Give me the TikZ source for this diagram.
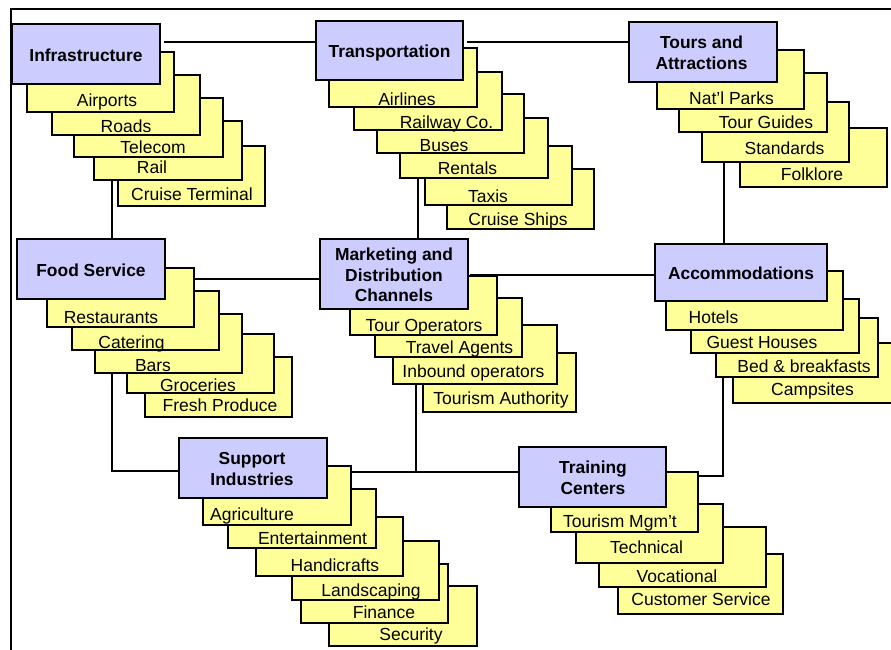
\documentclass[tikz,border=0pt]{standalone}
\usepackage{fontspec}
\setmainfont{Liberation Sans}
\usetikzlibrary{fit}
\definecolor{headfill}{HTML}{CCCCFF}
\definecolor{itemfill}{HTML}{FFFF99}
\tikzset{
  headbox/.style={draw=black, fill=headfill, line width=1.5pt, inner sep=0pt},
  itembox/.style={draw=black, fill=itemfill, line width=1.5pt, inner sep=0pt},
  lbl/.style={inner sep=0pt, text height=12.5pt, text depth=0pt,
    font=\fontsize{17.5}{20}\selectfont},
  hlbl/.style={inner sep=0pt, text depth=0pt, align=center,
    font=\fontsize{17.4}{20.5}\selectfont\bfseries},
  link/.style={draw=black, line width=1.4pt},
  frame/.style={draw=black, line width=1.6pt}
}
% one yellow card: name, corners (x1,y1) (x2,y2), label position, label
\newcommand\yitem[8]{%
  \node[itembox, fit={(#2,#3) (#4,#5)}] (#1) {};
  \node[lbl] (#1-t) at (#6,#7) {#8};}
% one blue heading card: name, corners, label position, label
\newcommand\hitem[8]{%
  \node[headbox, fit={(#2,#3) (#4,#5)}] (#1) {};
  \node[hlbl] (#1-t) at (#6,#7) {#8};}
\begin{document}
\begin{tikzpicture}[x=1pt,y=-1pt]
\useasboundingbox (0,0) rectangle (891,649);
\clip (0,0) rectangle (891,649);

% outer frame
\draw[frame] (11,9) rectangle (905,665);

% connector end points
\coordinate (h1) at (164,42);
\coordinate (h2) at (467,42);
\coordinate (v1) at (112,180);
\coordinate (v2) at (418,178);
\coordinate (v3) at (724,162);
\coordinate (h3) at (194,279);
\coordinate (h4) at (470,275);
\coordinate (v4) at (112,373);
\coordinate (k4) at (112,471);
\coordinate (v5) at (416,384);
\coordinate (h5) at (351,472);
\coordinate (v6) at (723,377);
\coordinate (k6) at (723,476);
\coordinate (e6) at (698,476);

% connectors sit on a layer behind the cards
\pgfdeclarelayer{back}
\pgfsetlayers{back,main}

% ---------------- Infrastructure
\yitem{i5}{118}{146}{265}{206}{192}{194}{Cruise Terminal}
\yitem{i4}{94}{121}{242}{180}{152}{167}{Rail}
\yitem{i3}{74}{98}{223}{157}{153}{147}{Telecom}
\yitem{i2}{52}{75}{200}{135}{126}{126}{Roads}
\yitem{i1}{27}{52}{174}{112}{107}{100}{Airports}
\hitem{inf}{12}{24}{160}{84}{86}{55}{Infrastructure}

% ---------------- Transportation
\yitem{t6}{447}{169}{594}{229}{518}{219}{Cruise Ships}
\yitem{t5}{425}{146}{572}{205}{488}{196}{Taxis}
\yitem{t4}{400}{118}{548}{178}{467.5}{168.5}{Rentals}
\yitem{t3}{377}{94}{524}{153}{444}{145.5}{Buses}
\yitem{t2}{354}{72}{502}{130}{446.5}{122.5}{Railway Co.}
\yitem{t1}{329}{48}{477}{107}{407}{99}{Airlines}
\hitem{trans}{316}{21}{463}{80}{389.5}{51}{Transportation}

% ---------------- Tours and Attractions
\yitem{a4}{740}{128}{887}{187}{812}{174}{Folklore}
\yitem{a3}{702}{102}{849}{162}{784.5}{148.5}{Standards}
\yitem{a2}{679}{73}{827}{132}{766}{122.5}{Tour Guides}
\yitem{a1}{657}{50}{804}{109}{731.5}{98.5}{Nat’l Parks}
\hitem{tours}{629}{22}{777}{82}{701.5}{52.5}{Tours and\\Attractions}

% ---------------- Food Service
\yitem{f5}{145}{357}{292}{417}{220}{405}{Fresh Produce}
\yitem{f4}{127}{334}{274}{393}{198}{385}{Groceries}
\yitem{f3}{95}{314}{242}{373}{153}{365}{Bars}
\yitem{f2}{72}{291}{219}{350}{131.5}{342.5}{Catering}
\yitem{f1}{47}{268}{194}{327}{111}{317.5}{Restaurants}
\hitem{food}{17}{239}{165}{299}{91}{270}{Food Service}

% ---------------- Marketing and Distribution Channels
\yitem{m4}{423}{353}{576}{412}{501}{398.5}{Tourism Authority}
\yitem{m3}{393}{325}{557}{384}{473.5}{371.5}{Inbound operators}
\yitem{m2}{375}{298}{522}{357}{459.5}{347.5}{Travel Agents}
\yitem{m1}{350}{276}{497}{335}{424}{325}{Tour Operators}
\hitem{mkt}{320}{239}{468}{309}{394}{275}{Marketing and\\Distribution\\Channels}

% ---------------- Accommodations
\yitem{c4}{733}{343}{905}{403}{812.5}{389}{Campsites}
\yitem{c3}{716}{318}{878}{377}{804}{366}{Bed \& breakfasts}
\yitem{c2}{691}{299}{859}{353}{762}{342}{Guest Houses}
\yitem{c1}{666}{271}{843}{330}{713.5}{317}{Hotels}
\hitem{acc}{655}{244}{827}{301}{741}{273}{Accommodations}

% ---------------- Support Industries
\yitem{s6}{329}{586}{477}{646}{411}{634}{Security}
\yitem{s5}{301}{564}{448}{623}{384}{612.5}{Finance}
\yitem{s4}{292}{541}{439}{600}{371}{590}{Landscaping}
\yitem{s3}{256}{517}{403}{576}{335}{565}{Handicrafts}
\yitem{s2}{228}{489}{376}{548}{312.5}{538.5}{Entertainment}
\yitem{s1}{203}{466}{351}{525}{252}{514}{Agriculture}
\hitem{sup}{179}{438}{327}{498}{252}{469}{Support\\Industries}

% ---------------- Training Centers
\yitem{r4}{618}{554}{783}{614}{701}{599}{Customer Service}
\yitem{r3}{599}{527}{766}{587}{677}{576.5}{Vocational}
\yitem{r2}{576}{504}{723}{563}{646.5}{547.5}{Technical}
\yitem{r1}{551}{472}{698}{532}{620}{521}{Tourism Mgm’t}
\hitem{trn}{519}{447}{666}{507}{593}{477.5}{Training\\Centers}

% ---------------- connectors
\begin{pgfonlayer}{back}
\draw[link] (h1) -- (h1 -| trans.west);
\draw[link] (h2) -- (h2 -| tours.west);
\draw[link] (v1) -- (v1 |- food.north);
\draw[link] (v2) -- (v2 |- mkt.north);
\draw[link] (v3) -- (v3 |- acc.north);
\draw[link] (h3) -- (h3 -| mkt.west);
\draw[link] (h4) -- (h4 -| acc.west);
\draw[link] (v4) -- (k4) -- (k4 -| sup.west);
\draw[link] (v5) -- (v5 |- h5);
\draw[link] (h5) -- (h5 -| trn.west);
\draw[link] (v6) -- (k6) -- (e6);
\end{pgfonlayer}
\end{tikzpicture}
\end{document}
